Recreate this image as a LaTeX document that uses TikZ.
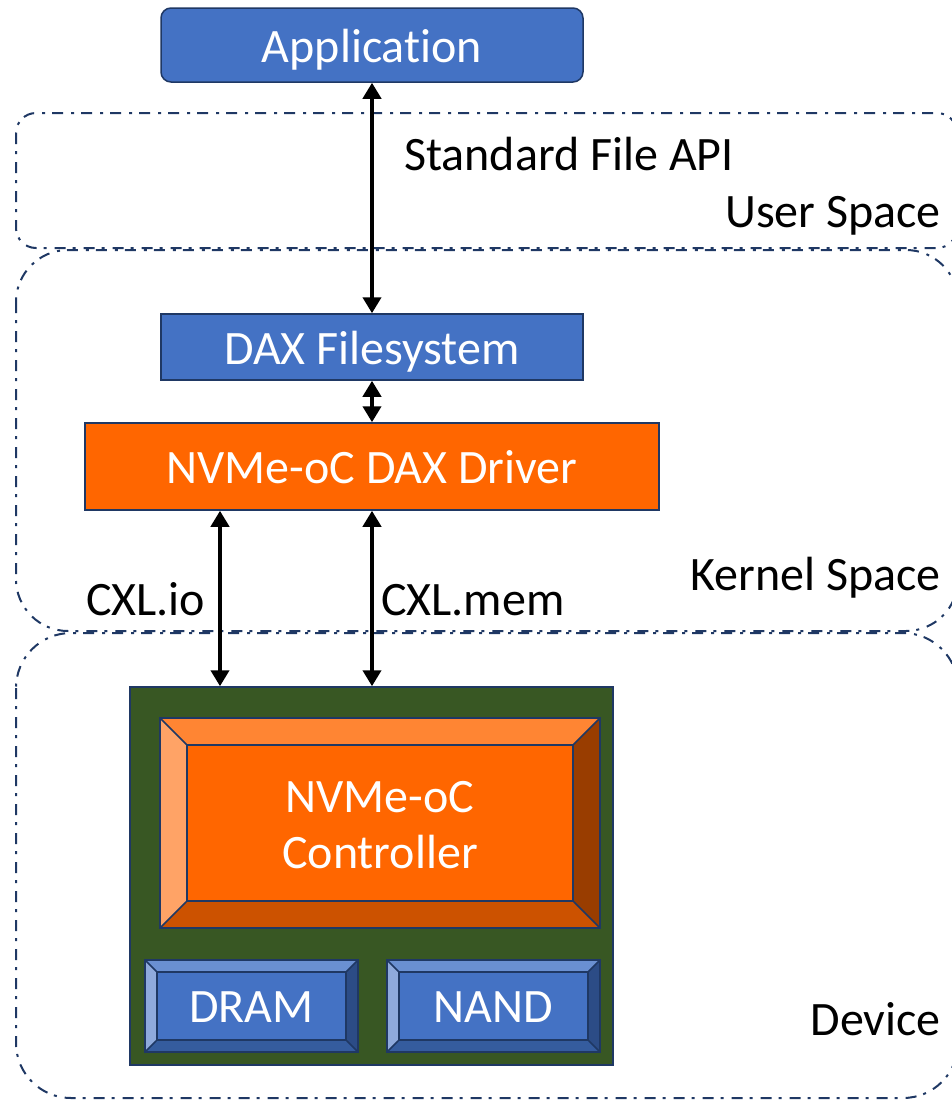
\documentclass[tikz,border=0pt]{standalone}
\usepackage{fontspec}
\setmainfont[Ligatures=NoCommon]{Carlito}
\usetikzlibrary{arrows.meta,calc}

\definecolor{navy}{HTML}{1F3864}
\definecolor{boxblue}{HTML}{4472C4}
\definecolor{boxorange}{HTML}{FF6600}
\definecolor{boardgreen}{HTML}{385723}
% bevel palettes
\definecolor{org-top}{HTML}{FF8533}
\definecolor{org-left}{HTML}{FFA366}
\definecolor{org-right}{HTML}{993D00}
\definecolor{org-bottom}{HTML}{CC5200}
\definecolor{org-face}{HTML}{FF6600}
\definecolor{blu-top}{HTML}{6A90D2}
\definecolor{blu-left}{HTML}{8FAADC}
\definecolor{blu-right}{HTML}{2C4C86}
\definecolor{blu-bottom}{HTML}{355C9E}
\definecolor{blu-face}{HTML}{4472C4}

\tikzset{
  region/.style={draw=navy, line width=2pt, dash pattern=on 11pt off 7pt on 3pt off 8pt},
  block/.style={draw=navy, line width=1.5pt, text=white, font=\fontsize{48}{56}\selectfont,
    inner sep=0pt, align=center, text height=40pt, text depth=6pt},
  label/.style={font=\fontsize{48}{56}\selectfont, inner sep=0pt},
  link/.style={line width=4pt, {Triangle[length=16pt,width=18pt]}-{Triangle[length=16pt,width=18pt]}},
  bevelline/.style={draw=navy, line width=1.5pt},
}

% raised panel: name, x1, y1, x2, y2, bevel size, palette, text, extra node options
\newcommand\bevelbox[9]{%
  \fill[#7-top]    (#2,#3) -- (#4,#3) -- (#4-#6,#3+#6) -- (#2+#6,#3+#6) -- cycle;
  \fill[#7-left]   (#2,#3) -- (#2+#6,#3+#6) -- (#2+#6,#5-#6) -- (#2,#5) -- cycle;
  \fill[#7-right]  (#4,#3) -- (#4,#5) -- (#4-#6,#5-#6) -- (#4-#6,#3+#6) -- cycle;
  \fill[#7-bottom] (#2,#5) -- (#2+#6,#5-#6) -- (#4-#6,#5-#6) -- (#4,#5) -- cycle;
  \node[block, fill=#7-face, minimum width={(#4-#2-2*#6)*1pt}, minimum height={(#5-#3-2*#6)*1pt}, #9]
    (#1) at ({(#2+#4)/2},{(#3+#5)/2}) {#8};
  \draw[bevelline] (#2,#3) rectangle (#4,#5);
  \draw[bevelline] (#2,#3) -- (#1.north west) (#4,#3) -- (#1.north east)
                   (#2,#5) -- (#1.south west) (#4,#5) -- (#1.south east);
}

\begin{document}
\begin{tikzpicture}[x=1pt,y=-1pt]
\useasboundingbox (0,0) rectangle (951,1101);

% layer outlines
\draw[region, rounded corners=20pt] (16,113) rectangle (957,248);
\draw[region, rounded corners=52pt] (16,250) rectangle (958,631);
\draw[region, rounded corners=55pt] (16,633) rectangle (958,1098);

% software stack
\node[block, fill=boxblue, rounded corners=10pt, minimum width=422pt, minimum height=74pt, text height=41pt]
  (app) at (372,45) {Application};
\node[block, fill=boxblue, minimum width=422pt, minimum height=66pt]
  (dax) at (372,347) {DAX Filesystem};
\node[block, fill=boxorange, minimum width=574pt, minimum height=87pt]
  (driver) at (372,466.5) {NVMe-oC DAX Driver};

% device board
\node[draw=navy, line width=1.5pt, fill=boardgreen, minimum width=483pt, minimum height=378pt]
  (device) at (371.5,876) {};
\bevelbox{ctrl}{160}{718}{600}{928}{27}{org}{NVMe-oC\\Controller}{text height=96pt}
\bevelbox{dram}{145}{960}{358}{1052}{12}{blu}{DRAM}{text height=38pt}
\bevelbox{nand}{387}{960}{600}{1052}{12}{blu}{NAND}{text height=38pt}

% connectors
\draw[link] (app.south) -- (dax.north);
\draw[link] (dax.south) -- (driver.north);
\draw[link] ([xshift=-152pt]driver.south) -- ([xshift=-152pt]driver.south |- device.north);
\draw[link] (driver.south) -- (driver.south |- device.north);

% labels
\node[label, anchor=base west] (api) at (404,170) {Standard File API};
\node[label, anchor=base east] (user) at (941,227) {User Space};
\node[label, anchor=base east] (kernel) at (941,590) {Kernel Space};
\node[label, anchor=base east] (dev) at (941,1035) {Device};
\node[label, anchor=base west] (cxlio) at (86,615) {CXL.io};
\node[label, anchor=base west] (cxlmem) at (381,615) {CXL.mem};
\end{tikzpicture}
\end{document}
